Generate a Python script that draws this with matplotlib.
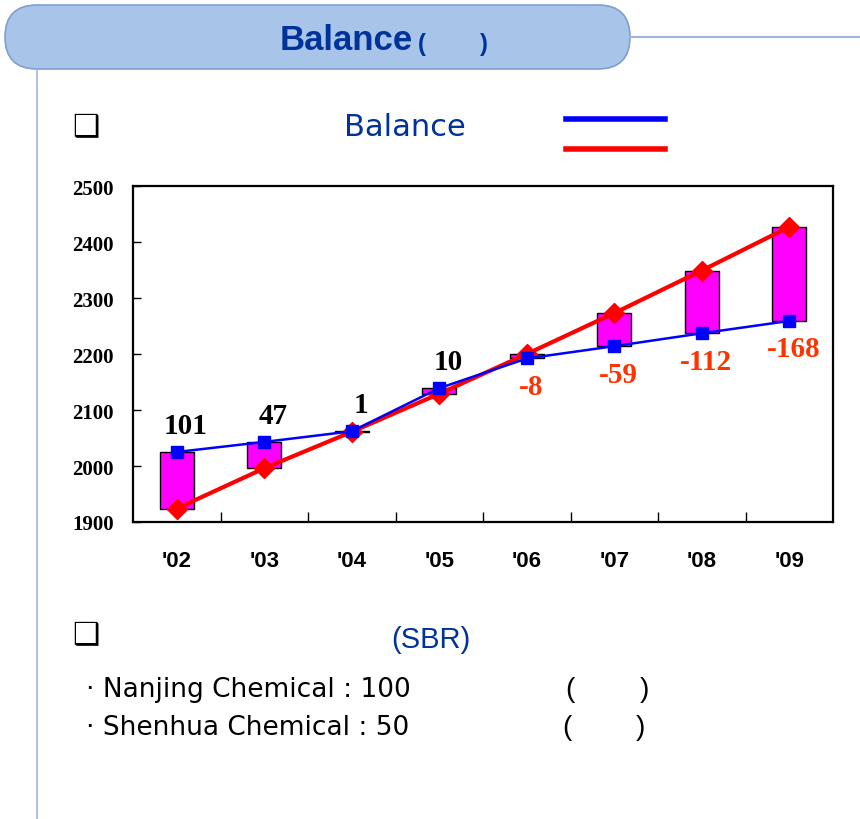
import numpy as np
import matplotlib.pyplot as plt
from matplotlib.patches import FancyBboxPatch
from matplotlib.lines import Line2D

years = ["'02", "'03", "'04", "'05", "'06", "'07", "'08", "'09"]
supply = [2025, 2043, 2062, 2139, 2192, 2214, 2237, 2259]
balance = [101, 47, 1, 10, -8, -59, -112, -168]
demand = [s - b for s, b in zip(supply, balance)]
yticks = [1900, 2000, 2100, 2200, 2300, 2400, 2500]

plt.rcParams['font.family'] = ['Liberation Sans', 'DejaVu Sans']

fig = plt.figure(figsize=(8.6, 8.2), dpi=100)
W, H = 860, 820

def fx(px):
    return px / W

def fy(py):
    return 1 - py / H

# header pill
pill = FancyBboxPatch((0, 0), 1, 1, boxstyle="round,pad=0,rounding_size=32",
                      transform=None, facecolor='#A8C4E9',
                      edgecolor='#7F9ED2', linewidth=1.2)
pill.set_bounds(5, H - 70, 625, 64)
fig.add_artist(pill)
fig.add_artist(Line2D([fx(630), fx(860)], [fy(38), fy(38)], transform=fig.transFigure,
                      color='#9DB6DE', lw=1.5))
fig.add_artist(Line2D([fx(37), fx(37)], [fy(71), fy(820)], transform=fig.transFigure,
                      color='#9DB6DE', lw=1.2))
fig.text(fx(346), fy(40), 'Balance', ha='center', va='center', fontsize=25,
         fontweight='bold', color='#003399')
fig.text(fx(418), fy(45), '(', ha='left', va='center', fontsize=17,
         fontweight='bold', color='#003399')
fig.text(fx(480), fy(45), ')', ha='left', va='center', fontsize=17,
         fontweight='bold', color='#003399')

# section headers
for yy in (128, 636):
    fig.text(fx(72), fy(yy), '\u2751', ha='left', va='center', fontsize=22,
             family='DejaVu Sans', fontweight='bold', color='black')
fig.text(fx(405), fy(128), 'Balance', ha='center', va='center', fontsize=22,
         family='DejaVu Sans', color='#003399')
fig.add_artist(Line2D([fx(566), fx(665)], [fy(120), fy(120)], transform=fig.transFigure,
                      color='#0000FF', lw=4))
fig.add_artist(Line2D([fx(566), fx(665)], [fy(150), fy(150)], transform=fig.transFigure,
                      color='#FF0000', lw=4))
fig.text(fx(431), fy(640), '(SBR)', ha='center', va='center', fontsize=21,
         color='#003399')
fig.text(fx(86), fy(690), '\u00b7 Nanjing Chemical : 100', ha='left', va='center',
         fontsize=19, family='DejaVu Sans', color='black')
fig.text(fx(86), fy(728), '\u00b7 Shenhua Chemical : 50', ha='left', va='center',
         fontsize=19, family='DejaVu Sans', color='black')
for yy, xl, xr in ((690, 565, 640), (728, 562, 636)):
    fig.text(fx(xl), fy(yy), '(', ha='left', va='center', fontsize=20)
    fig.text(fx(xr), fy(yy), ')', ha='left', va='center', fontsize=20)

# chart
ax = fig.add_axes([fx(133), fy(523), fx(833) - fx(133), fy(187) - fy(523)])
x = np.arange(len(years))
lo = np.minimum(supply, demand)
hi = np.maximum(supply, demand)
ax.bar(x, hi - lo, bottom=lo, width=0.39, color='#FF00FF', edgecolor='black',
       linewidth=1, zorder=2)
ax.plot(x, demand, color='#FF0000', lw=3, marker='D', markersize=10, zorder=3)
ax.plot(x, supply, color='#0000FF', lw=1.8, marker='s', markersize=8, zorder=4)

for i, b in enumerate(balance):
    if b >= 0:
        ax.text(x[i] + 0.1, supply[i] + 48, str(b), ha='center', va='center',
                fontsize=21, fontweight='bold', family='Liberation Serif', color='black')
    else:
        ax.text(x[i] + 0.05, supply[i] - 50, str(b), ha='center', va='center',
                fontsize=21, fontweight='bold', family='Liberation Serif', color='#FF3300')

ax.set_xlim(-0.5, len(years) - 0.5)
ax.set_ylim(1900, 2500)
ax.set_yticks(yticks)
ax.set_yticklabels([str(v) for v in yticks], fontsize=15, fontweight='bold',
                   family='Liberation Serif')
ax.set_xticks(x)
ax.set_xticklabels(years, fontsize=16, fontweight='bold')
ax.set_xticks(x[:-1] + 0.5, minor=True)
ax.tick_params(axis='x', which='major', length=0, pad=20)
ax.tick_params(axis='x', which='minor', direction='in', length=7, width=1)
ax.tick_params(axis='y', direction='in', length=6, width=1, pad=14)
for s in ax.spines.values():
    s.set_linewidth(1.6)

fig.savefig('out.png', dpi=100)
